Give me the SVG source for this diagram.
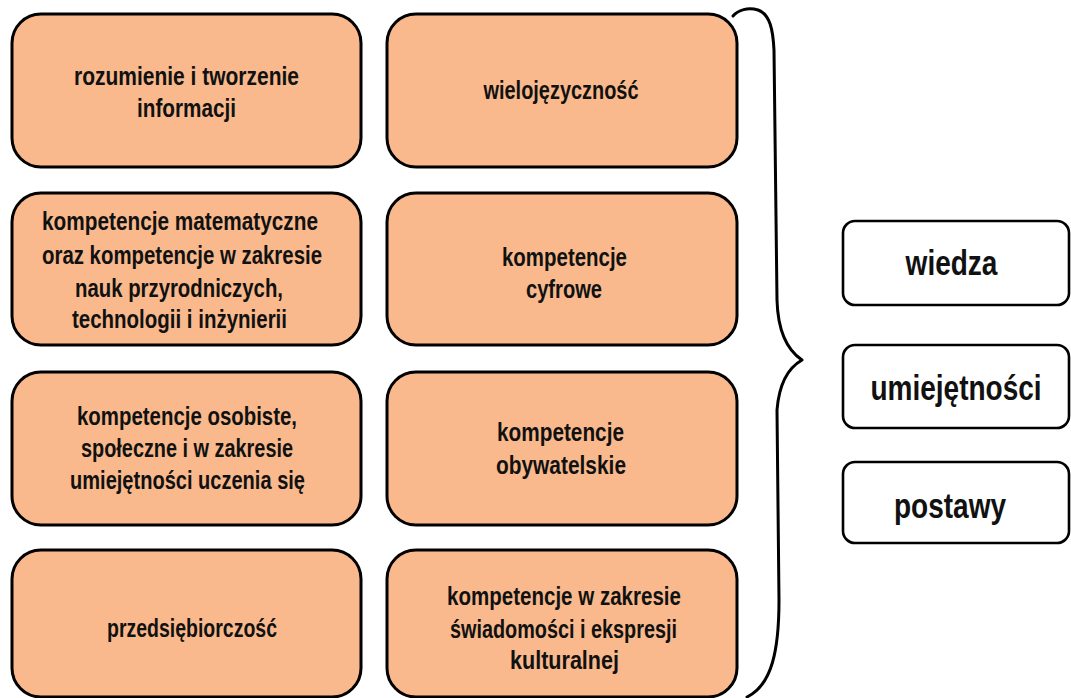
<svg xmlns="http://www.w3.org/2000/svg" width="1071" height="698" viewBox="0 0 1071 698">
<style>
.box{fill:#F9B98C;stroke:#000;stroke-width:3}
.wbox{fill:#fff;stroke:#000;stroke-width:2.6}
.t{font-family:"Liberation Sans",Arial,sans-serif;font-weight:bold;font-size:25px;fill:#111;text-anchor:middle}
.tb{font-family:"Liberation Sans",Arial,sans-serif;font-weight:bold;font-size:35px;fill:#111;text-anchor:middle}
.brace{fill:none;stroke:#000;stroke-width:3;stroke-linecap:round;stroke-linejoin:round}
</style>
<rect width="1071" height="698" fill="#fff"/>
<g id="n1">
<rect class="box" x="12" y="14" width="349" height="153" rx="29"/>
<text class="t" x="186.5" y="85" textLength="225" lengthAdjust="spacingAndGlyphs">rozumienie i tworzenie</text>
<text class="t" x="186.5" y="117" textLength="99" lengthAdjust="spacingAndGlyphs">informacji</text>
</g>
<g id="n2">
<rect class="box" x="387" y="14" width="350" height="153" rx="29"/>
<text class="t" x="561" y="99" textLength="155" lengthAdjust="spacingAndGlyphs">wielojęzyczność</text>
</g>
<g id="n3">
<rect class="box" x="12" y="193" width="349" height="152" rx="29"/>
<text class="t" x="180" y="230" textLength="276" lengthAdjust="spacingAndGlyphs">kompetencje matematyczne</text>
<text class="t" x="182" y="264" textLength="280" lengthAdjust="spacingAndGlyphs">oraz kompetencje w zakresie</text>
<text class="t" x="179" y="297" textLength="208" lengthAdjust="spacingAndGlyphs">nauk przyrodniczych,</text>
<text class="t" x="179.5" y="328" textLength="215" lengthAdjust="spacingAndGlyphs">technologii i inżynierii</text>
</g>
<g id="n4">
<rect class="box" x="387" y="193" width="350" height="152" rx="29"/>
<text class="t" x="564.5" y="266" textLength="125" lengthAdjust="spacingAndGlyphs">kompetencje</text>
<text class="t" x="564" y="298" textLength="76" lengthAdjust="spacingAndGlyphs">cyfrowe</text>
</g>
<g id="n5">
<rect class="box" x="12" y="372" width="349" height="153" rx="29"/>
<text class="t" x="187" y="425" textLength="220" lengthAdjust="spacingAndGlyphs">kompetencje osobiste,</text>
<text class="t" x="187" y="457" textLength="212" lengthAdjust="spacingAndGlyphs">społeczne i w zakresie</text>
<text class="t" x="187.5" y="489" textLength="235" lengthAdjust="spacingAndGlyphs">umiejętności uczenia się</text>
</g>
<g id="n6">
<rect class="box" x="387" y="372" width="350" height="153" rx="29"/>
<text class="t" x="560.5" y="441" textLength="127" lengthAdjust="spacingAndGlyphs">kompetencje</text>
<text class="t" x="561" y="474" textLength="130" lengthAdjust="spacingAndGlyphs">obywatelskie</text>
</g>
<g id="n7">
<rect class="box" x="12" y="550" width="349" height="147" rx="29"/>
<text class="t" x="192" y="637" textLength="170" lengthAdjust="spacingAndGlyphs">przedsiębiorczość</text>
</g>
<g id="n8">
<rect class="box" x="387" y="550" width="350" height="147" rx="29"/>
<text class="t" x="564" y="605" textLength="234" lengthAdjust="spacingAndGlyphs">kompetencje w zakresie</text>
<text class="t" x="563.5" y="638" textLength="227" lengthAdjust="spacingAndGlyphs">świadomości i ekspresji</text>
<text class="t" x="564.5" y="669" textLength="109" lengthAdjust="spacingAndGlyphs">kulturalnej</text>
</g>
<g id="connectors">
<path class="brace" d="M733,16 C738,10 748,7 758,10 C770,14 773,30 774,50 L777,300 C778,335 790,352 802,360 C788,368 779,385 777,410 L779,600 C779,650 772,685 747,697"/>
</g>
<g id="n9">
<rect class="wbox" x="843" y="221" width="226" height="84" rx="12"/>
<text class="tb" transform="translate(951.5,275) scale(0.8,1)">wiedza</text>
</g>
<g id="n10">
<rect class="wbox" x="843" y="345" width="226" height="83" rx="12"/>
<text class="tb" transform="translate(956,400) scale(0.8,1)">umiejętności</text>
</g>
<g id="n11">
<rect class="wbox" x="843" y="462" width="226" height="81" rx="12"/>
<text class="tb" transform="translate(950,518) scale(0.8,1)">postawy</text>
</g>
</svg>
